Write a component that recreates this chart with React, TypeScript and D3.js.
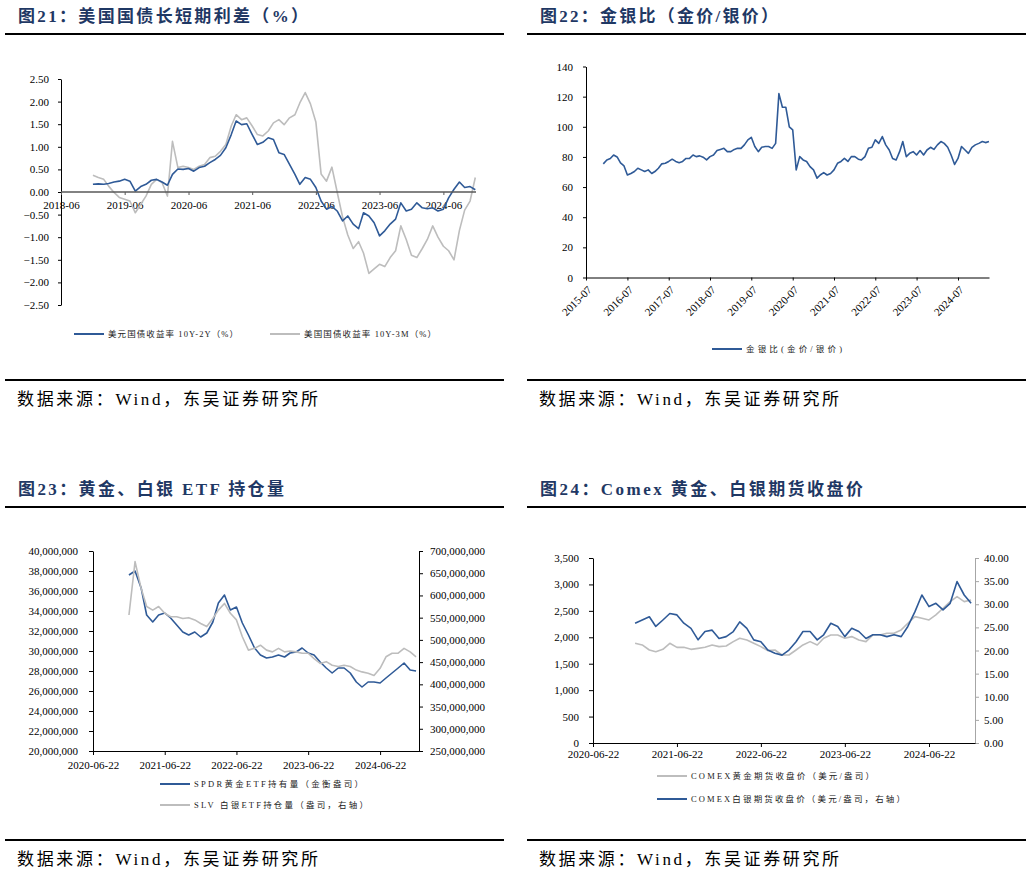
import * as d3 from 'd3';
import React, { useEffect, useRef } from 'react';

const BLUE = '#2F5A97';
const GREY = '#BDBDBD';
const NAVY = '#1F3864';
const SERIF = "'Liberation Serif', 'Times New Roman', serif";
const MIXED = "'Liberation Serif', 'Noto Sans CJK SC', serif";

// 图21 美国国债长短期利差（月度，%）
const spreadStart = '2018-12-01';
const spread10y2y = [
  0.17, 0.18, 0.17, 0.19, 0.22, 0.24, 0.28, 0.24, 0.02, 0.12, 0.17, 0.26, 0.28, 0.22, 0.15, 0.39,
  0.51, 0.5, 0.52, 0.46, 0.54, 0.57, 0.65, 0.72, 0.81, 0.98, 1.27, 1.57, 1.49, 1.51, 1.27, 1.05,
  1.1, 1.2, 1.16, 0.87, 0.83, 0.61, 0.39, 0.17, 0.32, 0.28, 0.1, -0.2, -0.38, -0.32, -0.42, -0.64,
  -0.53, -0.71, -0.81, -0.46, -0.53, -0.68, -0.97, -0.86, -0.71, -0.6, -0.24, -0.42, -0.38, -0.24,
  -0.35, -0.37, -0.35, -0.42, -0.38, -0.13, 0.06, 0.22, 0.1, 0.12, 0.05,
];
const spread10y3m = [
  0.37, 0.32, 0.28, 0.13, -0.01, -0.12, -0.16, -0.2, -0.46, -0.27, -0.09, 0.17, 0.28, 0.21, -0.09,
  1.12, 0.54, 0.57, 0.54, 0.5, 0.57, 0.61, 0.76, 0.79, 0.9, 1.05, 1.46, 1.71, 1.6, 1.64, 1.46, 1.27,
  1.24, 1.35, 1.53, 1.6, 1.49, 1.64, 1.71, 1.97, 2.2, 1.95, 1.55, 0.4, 0.24, 0.55, 0.0, -0.55, -0.95,
  -1.25, -1.1, -1.35, -1.8, -1.7, -1.6, -1.65, -1.45, -1.3, -0.75, -1.05, -1.4, -1.45, -1.25, -1.05,
  -0.75, -1.0, -1.2, -1.3, -1.5, -0.85, -0.4, -0.2, 0.32,
];
const spreadXTicks = ['2018-06-01', '2019-06-01', '2020-06-01', '2021-06-01', '2022-06-01', '2023-06-01', '2024-06-01'];
const spreadYTicks = [2.5, 2, 1.5, 1, 0.5, 0, -0.5, -1, -1.5, -2, -2.5];

// 图22 金银比（月度）
const ratioStart = '2015-12-01';
const goldSilverRatio = [
  75.4, 78, 79, 81.3, 80, 76, 74, 68, 69, 70.3, 72.5, 71.4, 70.3, 71.4, 69, 70.3, 72.5, 75.4, 75.8, 77,
  78.5, 77, 76.2, 77, 79, 79, 81.3, 80.2, 80.7, 79.8, 78, 80.2, 81.3, 84.2, 85, 85.7, 83.5, 83.5, 85, 85.7,
  85.7, 88, 91.3, 93, 86.9, 83.5, 86.4, 86.9, 86.9, 85.7, 89, 122, 113, 113, 100, 98, 71.4, 80.2, 78, 77,
  73.6, 71.4, 65.9, 68, 69.6, 68, 69, 71.4, 75.8, 77, 79, 77, 80.2, 80.2, 78.5, 78, 80.2, 85.7, 86.4, 91.3,
  89, 93.5, 88, 84.6, 79, 78, 83.5, 90.2, 80.2, 82.4, 83.5, 81.3, 84.2, 81.3, 84.6, 86.4, 85, 88, 90.2, 89,
  86.4, 81.3, 75, 79, 86.9, 84.6, 82.4, 86.4, 88, 89, 90.2, 89.5, 90.2,
];
const ratioXTicks = ['2015-07-01', '2016-07-01', '2017-07-01', '2018-07-01', '2019-07-01', '2020-07-01', '2021-07-01', '2022-07-01', '2023-07-01', '2024-07-01'];
const ratioYTicks = [0, 20, 40, 60, 80, 100, 120, 140];

// 图23 黄金、白银ETF持仓量（百万盎司）
const etfStart = '2020-12-22';
const spdrHoldings = [
  37.6, 38.0, 36.3, 33.6, 32.9, 33.6, 33.8, 33.3, 32.6, 31.9, 31.6, 31.9, 31.4, 31.8, 32.9, 34.8, 35.6,
  34.1, 34.4, 32.8, 31.6, 30.3, 29.6, 29.3, 29.4, 29.6, 29.4, 29.8, 29.9, 30.3, 29.8, 29.6, 28.9, 28.3,
  27.8, 28.3, 28.3, 27.8, 26.9, 26.4, 26.9, 26.9, 26.8, 27.3, 27.8, 28.3, 28.8, 28.1, 28.0,
];
const slvHoldings = [
  556, 676, 616, 575, 567, 575, 560, 552, 552, 548, 550, 545, 537, 530, 548, 567, 582, 560, 545, 507,
  477, 481, 488, 477, 473, 481, 473, 475, 473, 470, 470, 458, 447, 451, 443, 440, 443, 440, 432, 428,
  425, 420, 436, 462, 470, 470, 481, 473, 462,
];
const etfXTicks = ['2020-06-22', '2021-06-22', '2022-06-22', '2023-06-22', '2024-06-22'];
const spdrTicks = [20, 22, 24, 26, 28, 30, 32, 34, 36, 38, 40];
const slvTicks = [250, 300, 350, 400, 450, 500, 550, 600, 650, 700];

// 图24 Comex 黄金、白银期货收盘价
const futStart = '2020-12-22';
const comexGold = [
  1886, 1855, 1760, 1728, 1772, 1886, 1810, 1810, 1772, 1791, 1810, 1855, 1823, 1836, 1918, 1981, 1950,
  1886, 1823, 1747, 1760, 1665, 1665, 1760, 1855, 1918, 1855, 1981, 2044, 2044, 1981, 2013, 1950, 1918,
  2044, 2044, 2076, 2076, 2139, 2265, 2391, 2360, 2328, 2423, 2549, 2675, 2770, 2675, 2707,
];
const comexSilver = [
  25.9, 26.6, 27.3, 25.2, 26.6, 28.0, 27.7, 25.9, 24.8, 22.3, 24.1, 24.4, 22.6, 23.0, 24.1, 26.2, 24.8,
  22.3, 21.9, 20.1, 19.4, 19.0, 20.1, 21.9, 24.1, 24.1, 22.3, 23.4, 25.9, 25.2, 23.0, 24.8, 24.1, 22.6,
  23.4, 23.4, 23.0, 23.4, 23.0, 25.2, 28.4, 32.0, 29.5, 30.2, 28.8, 30.2, 34.9, 32.0, 30.2,
];
const futXTicks = ['2020-06-22', '2021-06-22', '2022-06-22', '2023-06-22', '2024-06-22'];
const goldTicks = [0, 500, 1000, 1500, 2000, 2500, 3000, 3500];
const silverTicks = [0, 5, 10, 15, 20, 25, 30, 35, 40];

type Pt = { date: Date; v: number };
type Sel = d3.Selection<SVGGElement, unknown, null, undefined>;

const parse = d3.timeParse('%Y-%m-%d');
const monthly = (start: string, values: number[]): Pt[] =>
  values.map((v, i) => ({ date: d3.timeMonth.offset(parse(start)!, i), v }));
const dates = (list: string[]) => list.map((s) => parse(s)!);

function text(g: Sel, x: number, y: number, s: string, size: number, opts: any = {}) {
  const t = g
    .append('text')
    .attr('x', x)
    .attr('y', y)
    .attr('font-family', opts.family || MIXED)
    .attr('font-size', size)
    .attr('font-weight', opts.weight || 'normal')
    .attr('fill', opts.fill || '#000')
    .text(s);
  if (opts.width) t.attr('textLength', opts.width).attr('lengthAdjust', 'spacing');
  return t;
}

function frame(g: Sel, x0: number, x1: number, top: number, bottom: number, title: string, titleW: number, srcW: number) {
  text(g, x0 + 13, top - 12.5, title, 17, { weight: 'bold', fill: NAVY, width: titleW });
  g.append('line').attr('x1', x0).attr('x2', x1).attr('y1', top).attr('y2', top).attr('stroke', '#000').attr('stroke-width', 2);
  g.append('line').attr('x1', x0).attr('x2', x1).attr('y1', bottom).attr('y2', bottom).attr('stroke', '#000').attr('stroke-width', 2);
  text(g, x0 + 12, bottom + 24.5, '数据来源：Wind，东吴证券研究所', 17, { width: srcW });
}

function legend(g: Sel, x: number, y: number, color: string, label: string, w: number) {
  g.append('line').attr('x1', x).attr('x2', x + 30).attr('y1', y).attr('y2', y).attr('stroke', color).attr('stroke-width', 2);
  text(g, x + 34, y + 3.2, label, 8.5, { fill: '#222', width: w });
}

function styleAxis(a: Sel, color = '#000') {
  a.attr('font-family', SERIF).attr('font-size', 11);
  a.selectAll('line').attr('stroke', color);
  a.select('.domain').attr('stroke', color);
  a.selectAll('text').attr('fill', '#000');
}

function drawLine(g: Sel, data: Pt[], x: d3.ScaleTime<number, number>, y: d3.ScaleLinear<number, number>, color: string) {
  const line = d3
    .line<Pt>()
    .x((d) => x(d.date))
    .y((d) => y(d.v));
  g.append('path').datum(data).attr('fill', 'none').attr('stroke', color).attr('stroke-width', 1.6).attr('stroke-linejoin', 'round').attr('d', line);
}

const App: React.FC = () => {
  const svgRef = useRef<SVGSVGElement | null>(null);

  useEffect(() => {
    const svg = d3.select(svgRef.current);
    svg.selectAll('*').remove();
    const root = svg.append('g') as unknown as Sel;

    // ---------- 图21 ----------
    const p1 = root.append('g') as Sel;
    frame(p1, 5, 504, 34, 380, '图21：美国国债长短期利差（%）', 290, 301);
    const x1 = d3.scaleTime().domain([parse('2018-06-01')!, parse('2024-12-05')!]).range([61, 476]);
    const y1 = d3.scaleLinear().domain([-2.5, 2.5]).range([305, 79]);
    const ya1 = p1
      .append('g')
      .attr('transform', 'translate(61,0)')
      .call(d3.axisLeft(y1).tickValues(spreadYTicks).tickFormat(d3.format('.2f')).tickSize(3).tickPadding(9).tickSizeOuter(0)) as Sel;
    styleAxis(ya1);
    const xa1 = p1
      .append('g')
      .attr('transform', `translate(0,${y1(0)})`)
      .call(d3.axisBottom(x1).tickValues(dates(spreadXTicks)).tickFormat((d) => d3.timeFormat('%Y-%m')(d as Date)).tickSize(3).tickPadding(6)) as Sel;
    styleAxis(xa1, '#595959');
    xa1.select('.domain').remove();
    drawLine(p1, monthly(spreadStart, spread10y3m), x1, y1, GREY);
    drawLine(p1, monthly(spreadStart, spread10y2y), x1, y1, BLUE);
    p1.append('line').attr('x1', 61).attr('x2', 476).attr('y1', y1(0)).attr('y2', y1(0)).attr('stroke', '#595959').attr('stroke-width', 1.6);
    legend(p1, 74, 334, BLUE, '美元国债收益率 10Y-2Y（%）', 130);
    legend(p1, 270, 334, GREY, '美国国债收益率 10Y-3M（%）', 132);

    // ---------- 图22 ----------
    const p2 = root.append('g') as Sel;
    frame(p2, 527, 1026, 34, 380, '图22：金银比（金价/银价）', 238, 300);
    const x2 = d3.scaleTime().domain([parse('2015-07-01')!, parse('2025-04-01')!]).range([586, 989]);
    const y2 = d3.scaleLinear().domain([0, 140]).range([277.5, 66.5]);
    const ya2 = p2
      .append('g')
      .attr('transform', 'translate(586,0)')
      .call(d3.axisLeft(y2).tickValues(ratioYTicks).tickSize(3).tickPadding(10).tickSizeOuter(0)) as Sel;
    styleAxis(ya2);
    const xa2 = p2
      .append('g')
      .attr('transform', `translate(0,${y2(0)})`)
      .call(d3.axisBottom(x2).tickValues(dates(ratioXTicks)).tickFormat((d) => d3.timeFormat('%Y-%m')(d as Date)).tickSize(3).tickSizeOuter(0)) as Sel;
    styleAxis(xa2);
    xa2
      .selectAll('text')
      .attr('x', 0)
      .attr('y', 0)
      .attr('dy', 0)
      .attr('transform', 'translate(6,13) rotate(-45)')
      .style('text-anchor', 'end');
    drawLine(p2, monthly(ratioStart, goldSilverRatio), x2, y2, BLUE);
    legend(p2, 712, 349, BLUE, '金银比(金价/银价)', 96);

    // ---------- 图23 ----------
    const p3 = root.append('g') as Sel;
    frame(p3, 5, 504, 507, 840, '图23：黄金、白银 ETF 持仓量', 266, 301);
    const x3 = d3.scaleTime().domain([parse('2020-06-22')!, parse('2025-01-06')!]).range([93, 419]);
    const y3 = d3.scaleLinear().domain([20, 40]).range([751, 551]);
    const y3r = d3.scaleLinear().domain([250, 700]).range([751, 551]);
    const millions = (d: d3.NumberValue) => d3.format(',')(Number(d) * 1e6);
    const ya3 = p3
      .append('g')
      .attr('transform', 'translate(93,0)')
      .call(d3.axisLeft(y3).tickValues(spdrTicks).tickFormat(millions).tickSize(4).tickPadding(11).tickSizeOuter(0)) as Sel;
    styleAxis(ya3);
    const yr3 = p3
      .append('g')
      .attr('transform', 'translate(419,0)')
      .call(d3.axisRight(y3r).tickValues(slvTicks).tickFormat(millions).tickSize(4).tickPadding(7).tickSizeOuter(0)) as Sel;
    styleAxis(yr3);
    const xa3 = p3
      .append('g')
      .attr('transform', 'translate(0,751)')
      .call(d3.axisBottom(x3).tickValues(dates(etfXTicks)).tickFormat((d) => d3.timeFormat('%Y-%m-%d')(d as Date)).tickSize(4).tickPadding(6).tickSizeOuter(0)) as Sel;
    styleAxis(xa3);
    drawLine(p3, monthly(etfStart, spdrHoldings), x3, y3, BLUE);
    drawLine(p3, monthly(etfStart, slvHoldings), x3, y3r, GREY);
    legend(p3, 160, 784, BLUE, 'SPDR黄金ETF持有量（金衡盎司）', 169);
    legend(p3, 160, 805, GREY, 'SLV 白银ETF持仓量（盎司，右轴）', 174);

    // ---------- 图24 ----------
    const p4 = root.append('g') as Sel;
    frame(p4, 527, 1026, 507, 840, '图24：Comex 黄金、白银期货收盘价', 323, 300);
    const x4 = d3.scaleTime().domain([parse('2020-06-22')!, parse('2025-01-08')!]).range([593, 975]);
    const y4 = d3.scaleLinear().domain([0, 3500]).range([743, 558]);
    const y4r = d3.scaleLinear().domain([0, 40]).range([743, 558]);
    const ya4 = p4
      .append('g')
      .attr('transform', 'translate(593,0)')
      .call(d3.axisLeft(y4).tickValues(goldTicks).tickFormat(d3.format(',')).tickSize(4).tickPadding(10).tickSizeOuter(0)) as Sel;
    styleAxis(ya4);
    const yr4 = p4
      .append('g')
      .attr('transform', 'translate(975,0)')
      .call(d3.axisRight(y4r).tickValues(silverTicks).tickFormat(d3.format('.2f')).tickSize(4).tickPadding(5).tickSizeOuter(0)) as Sel;
    styleAxis(yr4, '#A6A6A6');
    const xa4 = p4
      .append('g')
      .attr('transform', 'translate(0,743)')
      .call(d3.axisBottom(x4).tickValues(dates(futXTicks)).tickFormat((d) => d3.timeFormat('%Y-%m-%d')(d as Date)).tickSize(4).tickPadding(3).tickSizeOuter(0)) as Sel;
    styleAxis(xa4);
    drawLine(p4, monthly(futStart, comexGold), x4, y4, GREY);
    drawLine(p4, monthly(futStart, comexSilver), x4, y4r, BLUE);
    legend(p4, 657, 776, GREY, 'COMEX黄金期货收盘价（美元/盎司）', 183);
    legend(p4, 657, 799, BLUE, 'COMEX白银期货收盘价（美元/盎司，右轴）', 214);
  }, []);

  return (
    <svg
      ref={svgRef}
      width={1032}
      height={874}
      style={{ position: 'absolute', left: 0, top: 0, background: '#fff' }}
    />
  );
};

export default App;
